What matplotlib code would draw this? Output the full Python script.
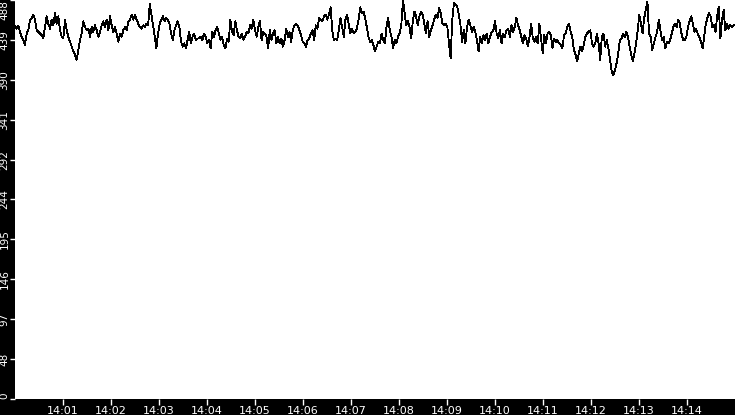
import numpy as np
import pandas as pd
import matplotlib
matplotlib.use('Agg')
import matplotlib.pyplot as plt
import matplotlib.dates as mdates

# values, one list per 2.5 minute block
block1 = [456, 453, 456, 449, 443, 439, 433, 447, 451, 464, 466, 470, 464, 451, 449, 447, 445, 441, 455, 468,
          459, 453, 464, 457, 472, 459, 468, 451, 443, 441, 464, 451, 443, 437, 431, 425, 421, 415, 427, 439,
          447, 462, 455, 451, 453, 443, 455, 449, 457, 451, 443, 449, 457, 462, 455, 464, 451, 468, 457, 449,
          455, 447, 437, 447, 443, 451, 455, 451, 462, 464, 470, 464]
block2 = [470, 464, 459, 455, 453, 457, 455, 459, 457, 483, 470, 457, 443, 429, 447, 459, 464, 468, 462, 466,
          464, 459, 447, 439, 451, 457, 462, 455, 437, 431, 435, 429, 439, 449, 435, 443, 447, 439, 441, 441,
          443, 439, 447, 443, 435, 439, 429, 449, 443, 451, 455, 447, 439, 443, 433, 429, 441, 437, 464, 449,
          445, 462, 451, 443, 441, 447, 439, 443, 449, 447, 457, 453, 464]
block3 = [451, 443, 455, 462, 439, 449, 447, 443, 429, 451, 439, 447, 451, 435, 443, 435, 441, 431, 439, 453,
          443, 449, 437, 451, 457, 459, 457, 451, 445, 437, 435, 431, 439, 441, 447, 451, 439, 457, 453, 466,
          464, 462, 468, 470, 464, 470, 479, 451, 439, 441, 439, 451, 466, 455, 443, 464, 470, 459, 447, 453,
          447, 449, 453, 464, 479, 472, 474, 466, 455, 443, 437, 439, 433]
block4 = [425, 431, 437, 435, 447, 439, 435, 455, 466, 451, 443, 429, 439, 435, 443, 447, 457, 488, 472, 457,
          462, 455, 441, 462, 474, 468, 457, 468, 474, 470, 459, 447, 462, 443, 451, 457, 464, 470, 466, 478,
          472, 459, 457, 459, 455, 435, 417, 464, 484, 482, 480, 470, 457, 437, 451, 435, 455, 464, 457, 449,
          455, 449, 439, 425, 443, 435, 445, 439, 447, 435, 443, 449, 451]
block5 = [462, 447, 441, 451, 435, 447, 443, 451, 453, 443, 457, 449, 455, 466, 457, 451, 443, 435, 445, 441,
          431, 443, 459, 441, 437, 443, 435, 459, 441, 423, 445, 435, 447, 449, 445, 429, 441, 437, 439, 435,
          433, 429, 445, 447, 455, 459, 449, 443, 427, 421, 413, 423, 431, 425, 433, 443, 447, 449, 451, 435,
          431, 435, 447, 435, 415, 443, 447, 431, 439, 429, 415, 400, 396]
block6 = [402, 411, 423, 439, 441, 447, 443, 449, 443, 431, 421, 413, 423, 435, 451, 470, 459, 447, 466, 476,
          486, 447, 443, 427, 435, 443, 449, 464, 451, 439, 443, 429, 437, 435, 439, 447, 455, 459, 455, 464,
          459, 447, 439, 439, 443, 455, 462, 468, 459, 449, 453, 447, 443, 437, 429, 443, 459, 466, 472, 468,
          455, 457, 449, 468, 480, 441, 464, 476, 451, 459, 453, 457, 455, 457]
blocks = [block1, block2, block3, block4, block5, block6]

start = pd.Timestamp('2024-01-01 14:00:00')
end = pd.Timestamp('2024-01-01 14:15:00')
y_max = 488
y_ticks = [y_max * i / 10 for i in range(11)]
y_labels = [str(int(t)) for t in y_ticks]

times = []
values = []
for k, b in enumerate(blocks):
    b0 = start + pd.Timedelta(seconds=150 * k)
    times += list(pd.date_range(b0, b0 + pd.Timedelta(seconds=150), periods=len(b) + 1)[:-1])
    values += b
times.append(end)
values.append(block6[-1])

fig = plt.figure(figsize=(7.35, 4.15), dpi=100, facecolor='black')
ax = fig.add_axes([15 / 735, 16 / 415, 720 / 735, 399 / 415])
ax.set_facecolor('white')
ax.plot(times, values, color='black', lw=0.6, antialiased=False)

ax.set_xlim(start, end)
ax.set_ylim(0, y_max)
for s in ax.spines.values():
    s.set_visible(False)

ax.xaxis.set_major_locator(mdates.MinuteLocator(byminute=range(1, 15)))
ax.xaxis.set_major_formatter(mdates.DateFormatter('%H:%M'))
ax.set_yticks(y_ticks)
ax.set_yticklabels(y_labels, rotation=90, va='center')
ax.tick_params(axis='x', colors='white', labelcolor='white', labelsize=8, length=4, width=1, pad=1)
ax.tick_params(axis='y', colors='white', labelcolor='white', labelsize=7.5, length=3.5, width=1, pad=0.5)
ylabs = ax.get_yticklabels()
ylabs[0].set_va('bottom')
ylabs[-1].set_va('top')

fig.savefig('out.png', dpi=100, facecolor='black')
